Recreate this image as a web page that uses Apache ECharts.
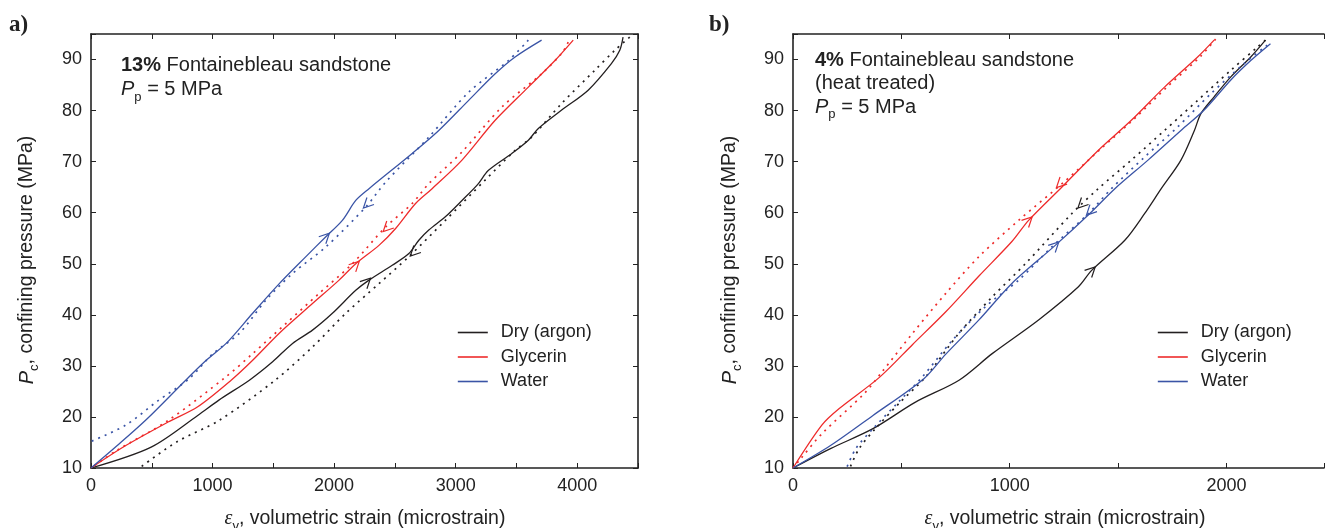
<!DOCTYPE html>
<html>
<head>
<meta charset="utf-8">
<script src="https://cdn.jsdelivr.net/npm/echarts@6/dist/echarts.min.js"></script>
<style>
html, body { margin: 0; padding: 0; background: #fff; }
#chart { width: 1327px; height: 528px; }
</style>
</head>
<body>
<div id="chart"></div>
<script>
//******** data ********//

//**** panel a) 13% Fontainebleau sandstone ****//
// [strain (microstrain), Pc (MPa)]
var dryLoadA = [[0,10],[495,14.1],[878,20.3],[1052,23.3],[1303,27.2],[1494,30.8],[1658,34.4],[1822,37.0],[1986,40.3],[2178,44.8],[2287,46.8],[2478,49.7],[2615,52.0],[2697,54.6],[2779,56.6],[2915,59.2],[3052,62.4],[3180,65.5],[3270,68.3],[3462,71.6],[3598,74.2],[3680,76.5],[3872,80.1],[4090,84.0],[4281,89.2],[4350,91.8],[4377,94.4]];
var dryUnloadA = [[4432,94.4],[4309,91.8],[4145,87.9],[3872,81.4],[3625,74.8],[3489,72.2],[3243,66.4],[2915,58.5],[2615,51.4],[2369,46.1],[2096,40.3],[1822,33.7],[1510,27.1],[1052,19.3],[704,15.1],[410,10.2]];
var glyLoadA = [[0,10],[286,14.4],[634,19.0],[878,22.0],[1153,27.2],[1330,31.1],[1549,36.4],[1822,42.2],[2041,46.8],[2178,50.0],[2369,53.6],[2506,56.9],[2670,61.8],[2806,64.7],[3052,70.3],[3325,78.1],[3598,84.6],[3817,89.8],[3967,93.8]];
var glyUnloadA = [[3926,93.4],[3872,91.2],[3707,87.2],[3380,80.7],[3052,71.9],[2779,65.7],[2642,61.8],[2424,57.2],[2150,50.0],[1877,44.2],[1604,38.3],[1330,32.4],[1112,27.9],[634,19.3],[216,13.5],[0,10]];
var watLoadA = [[0,10],[216,14.4],[460,19.6],[779,27.2],[948,31.1],[1112,34.4],[1330,40.3],[1549,46.1],[1768,51.4],[1932,55.3],[2068,58.5],[2178,62.4],[2287,64.7],[2642,71.6],[2861,76.1],[3107,82.0],[3325,87.2],[3489,90.5],[3707,93.8]];
var watUnloadA = [[3598,93.8],[3434,89.8],[3107,83.6],[2779,74.8],[2424,66.0],[2260,61.1],[1932,53.3],[1658,48.1],[1440,42.9],[1221,36.4],[1003,32.4],[808,27.5],[547,23.1],[286,18.4],[0,15.2]];
// arrow heads: dry load, dry unload, gly load, gly unload, water load, water unload
var arrowsA = [[2270,46.5],[2656,52.2],[2178,49.8],[2433,57.0],[1932,55.3],[2270,61.6]];

//**** panel b) 4% Fontainebleau sandstone (heat treated) ****//
var dryLoadB = [[0,10],[173,13.8],[369,17.7],[565,22.9],[766,27.2],[919,32.4],[1133,39.0],[1317,45.5],[1378,48.7],[1531,54.6],[1622,59.8],[1699,64.7],[1790,70.3],[1852,76.1],[1882,79.4],[1943,82.7],[2020,86.6],[2112,90.5],[2180,93.8]];
var dryUnloadB = [[2180,93.8],[2142,92.4],[2020,87.9],[1867,82.0],[1714,76.1],[1561,70.3],[1408,64.7],[1286,59.8],[1072,50.0],[919,43.5],[766,36.4],[613,27.9],[495,22.9],[380,17.7],[305,13.8],[262,10]];
var glyLoadB = [[0,10],[133,18.4],[212,21.6],[400,27.8],[552,34.2],[705,40.6],[858,47.6],[1011,54.4],[1087,58.5],[1240,65.0],[1408,72.2],[1561,78.1],[1714,84.6],[1867,90.5],[1943,93.8]];
var glyUnloadB = [[1950,94.0],[1880,90.6],[1730,84.8],[1580,78.6],[1420,72.5],[1250,66.0],[1041,58.5],[858,51.4],[705,44.2],[552,36.4],[414,29.0],[329,24.6],[133,16.7],[35,11.8],[0,10]];
var watLoadB = [[0,10],[173,14.4],[369,20.3],[604,27.5],[705,32.3],[858,39.0],[1011,46.2],[1210,53.6],[1378,60.2],[1485,64.7],[1638,70.3],[1790,76.1],[1897,80.1],[2020,86.0],[2112,89.8],[2203,93.1]];
var watUnloadB = [[2188,92.8],[2081,89.2],[1928,83.3],[1775,76.8],[1622,70.9],[1469,64.7],[1362,59.8],[1194,53.3],[1041,46.8],[888,41.6],[735,35.0],[598,27.9],[486,22.9],[369,17.7],[290,13.8],[247,10]];
var arrowsB = [[1378,48.7],[1331,61.6],[1087,58.5],[1232,65.6],[1210,53.6],[1370,60.2]];

//**** axes and labels ****//
var legendNames = ["Dry (argon)", "Glycerin", "Water"];
var xMaxA = 4500;
var xMaxB = 2450; // panel b is cut by the right edge of the figure

//******** styles ********//
var FONT = '"Liberation Sans", Arial, Helvetica, sans-serif';
var INK = "#222";
var C_DRY = "#231f20";
var C_GLY = "#ee2b2b";
var C_WAT = "#3a54a6";
var CHEVRON = "path://M0,0L10,5L0,10";

var chart = echarts.init(document.getElementById("chart"));

function thousands(v) {
  return v % 1000 === 0 ? String(v) : "";
}
function tens(v) {
  return v % 10 === 0 ? String(v) : "";
}

// one curve (solid = loading, dotted = unloading) with its arrow head
function curve(name, data, color, dotted, panel, arrow) {
  return {
    type: "line",
    name: name,
    data: data,
    xAxisIndex: panel * 2,
    yAxisIndex: panel * 2,
    symbol: "none",
    showSymbol: false,
    smooth: 0.3,
    silent: true,
    lineStyle: {
      color: color,
      width: dotted ? 1.7 : 1.3,
      type: dotted ? [2, 5] : "solid"
    },
    itemStyle: { color: color },
    markPoint: {
      symbol: CHEVRON,
      symbolSize: [10, 10],
      silent: true,
      label: { show: false },
      itemStyle: { color: "none", borderColor: color, borderWidth: 1.2 },
      data: [{ coord: arrow, symbolRotate: dotted ? 225 : 45 }]
    }
  };
}

function xAxisOf(grid, max, top) {
  return {
    type: "value",
    gridIndex: grid,
    position: top ? "top" : "bottom",
    min: 0,
    max: max,
    interval: 500,
    axisLine: { show: true, onZero: false, lineStyle: { color: INK, width: 1.6 } },
    axisTick: { inside: true, length: 5, lineStyle: { color: INK, width: 1 } },
    splitLine: { show: false },
    axisLabel: {
      show: !top,
      fontSize: 18,
      color: INK,
      fontFamily: FONT,
      margin: 9,
      formatter: thousands
    }
  };
}

function yAxisOf(grid, right) {
  return {
    type: "value",
    gridIndex: grid,
    position: right ? "right" : "left",
    min: 10,
    max: 95,
    interval: 10,
    axisLine: { show: true, onZero: false, lineStyle: { color: INK, width: 1.6 } },
    axisTick: { inside: true, length: 5, lineStyle: { color: INK, width: 1 } },
    splitLine: { show: false },
    axisLabel: {
      show: !right,
      fontSize: 18,
      color: INK,
      fontFamily: FONT,
      margin: 9,
      formatter: tens
    }
  };
}

// legend: plain line keys, the symbol is hidden
function legendAt(left) {
  return {
    data: legendNames,
    orient: "vertical",
    left: left,
    top: 323.5,
    padding: 0,
    itemWidth: 30,
    itemHeight: 18,
    itemGap: 6.5,
    selectedMode: false,
    itemStyle: { opacity: 0 },
    lineStyle: { width: 1.6 },
    textStyle: { fontSize: 18, color: INK, fontFamily: FONT, padding: [0, 0, 0, 8] }
  };
}

var subRich = {
  i: { fontSize: 20, fontFamily: FONT, fontStyle: "italic", fill: INK, lineHeight: 28 },
  e: { fontSize: 20, fontFamily: '"Liberation Serif", serif', fontStyle: "italic", fill: INK, lineHeight: 28 },
  s: { fontSize: 13, fontFamily: FONT, fill: INK, lineHeight: 16, verticalAlign: "bottom" },
  n: { fontSize: 20, fontFamily: FONT, fill: INK, lineHeight: 28 },
  a: { fontSize: 19.5, fontFamily: FONT, fill: INK, lineHeight: 28 },
  b: { fontSize: 20, fontFamily: FONT, fontWeight: "bold", fill: INK, lineHeight: 28 }
};

function txt(x, y, text, align, rotation) {
  return {
    type: "text",
    x: x,
    y: y,
    rotation: rotation || 0,
    silent: true,
    style: {
      text: text,
      font: "20px " + FONT,
      fill: INK,
      align: align || "left",
      verticalAlign: "middle",
      rich: subRich
    }
  };
}

var X_TITLE = "{e|ε}{s|v}{a|, volumetric strain (microstrain)}";
var Y_TITLE = "{i|P}{s|c}{a|, confining pressure (MPa)}";

var option = {
  animation: false,
  backgroundColor: "#fff",
  textStyle: { fontFamily: FONT },
  grid: [
    { left: 91, top: 34, width: 547, height: 434 },
    { left: 793, top: 34, width: 534, height: 434 }
  ],
  legend: [legendAt(457), legendAt(1157)],
  xAxis: [xAxisOf(0, xMaxA, false), xAxisOf(0, xMaxA, true), xAxisOf(1, xMaxB, false), xAxisOf(1, xMaxB, true)],
  yAxis: [yAxisOf(0, false), yAxisOf(0, true), yAxisOf(1, false)],
  series: [
    curve("Dry (argon)", dryLoadA, C_DRY, false, 0, arrowsA[0]),
    curve("Dry (argon) unload", dryUnloadA, C_DRY, true, 0, arrowsA[1]),
    curve("Glycerin", glyLoadA, C_GLY, false, 0, arrowsA[2]),
    curve("Glycerin unload", glyUnloadA, C_GLY, true, 0, arrowsA[3]),
    curve("Water", watLoadA, C_WAT, false, 0, arrowsA[4]),
    curve("Water unload", watUnloadA, C_WAT, true, 0, arrowsA[5]),
    curve("Dry (argon)", dryLoadB, C_DRY, false, 1, arrowsB[0]),
    curve("Dry (argon) unload", dryUnloadB, C_DRY, true, 1, arrowsB[1]),
    curve("Glycerin", glyLoadB, C_GLY, false, 1, arrowsB[2]),
    curve("Glycerin unload", glyUnloadB, C_GLY, true, 1, arrowsB[3]),
    curve("Water", watLoadB, C_WAT, false, 1, arrowsB[4]),
    curve("Water unload", watUnloadB, C_WAT, true, 1, arrowsB[5])
  ],
  graphic: [
    // panel letters
    { type: "text", x: 9, y: 25, silent: true, style: { text: "a)", font: 'bold 23px "Liberation Serif", serif', fill: INK, verticalAlign: "middle" } },
    { type: "text", x: 709, y: 25, silent: true, style: { text: "b)", font: 'bold 23px "Liberation Serif", serif', fill: INK, verticalAlign: "middle" } },
    // notes in the plots
    txt(121, 65.5, "{b|13%}{n| Fontainebleau sandstone}"),
    txt(121, 89.5, "{i|P}{s|p}{n| = 5 MPa}"),
    txt(815, 60, "{b|4%}{n| Fontainebleau sandstone}"),
    txt(815, 83.5, "{n|(heat treated)}"),
    txt(815, 107, "{i|P}{s|p}{n| = 5 MPa}"),
    // axis titles
    txt(365, 519, X_TITLE, "center"),
    txt(1065, 519, X_TITLE, "center"),
    txt(27, 260, Y_TITLE, "center", Math.PI / 2),
    txt(730, 260, Y_TITLE, "center", Math.PI / 2)
  ]
};

chart.setOption(option);
</script>
</body>
</html>
